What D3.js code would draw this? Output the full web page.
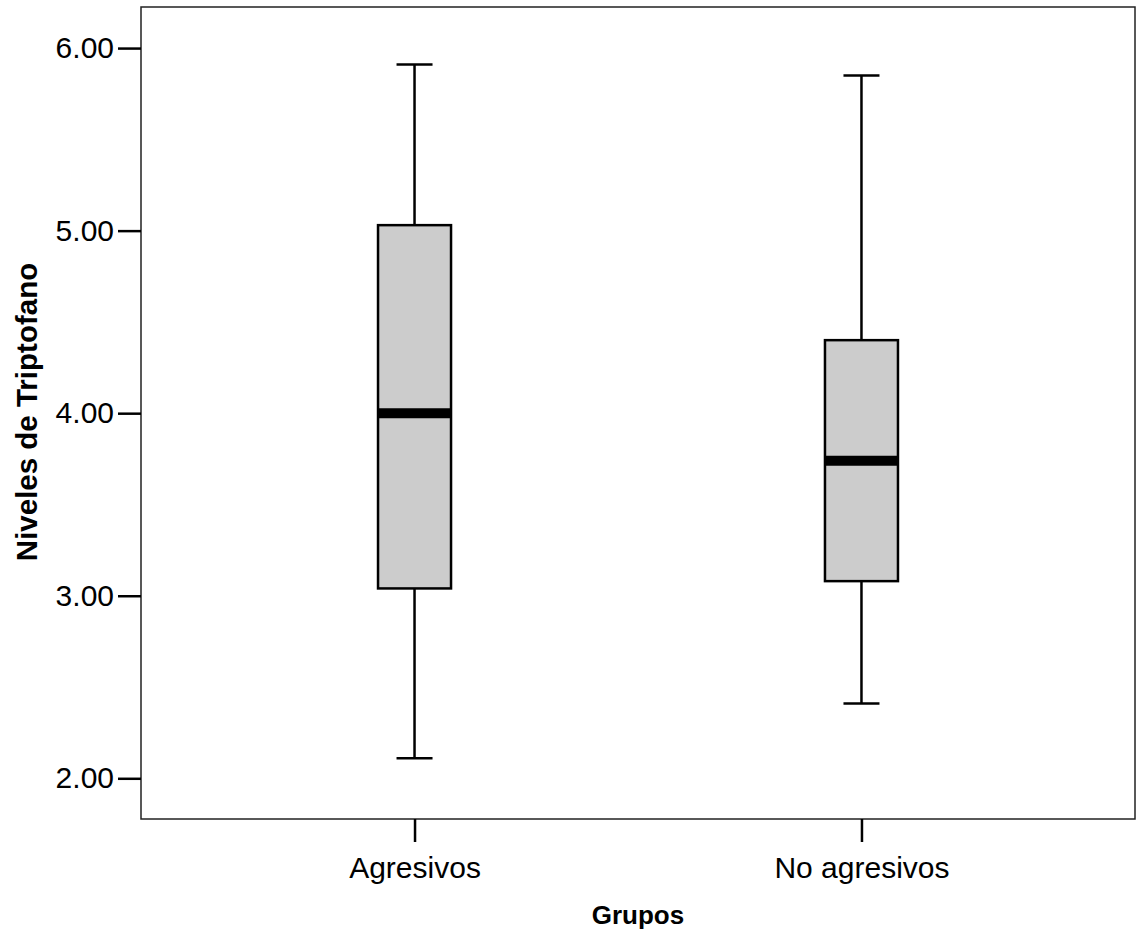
<!DOCTYPE html>
<html>
<head>
<meta charset="utf-8">
<script src="https://cdn.jsdelivr.net/npm/d3@7"></script>
<style>
  html, body { margin: 0; padding: 0; background: #fff; }
  svg { display: block; }
  text { font-family: "Liberation Sans", Arial, sans-serif; fill: #000; }
</style>
</head>
<body>
<svg id="chart" width="1136" height="933"></svg>
<script>
// Box plot: Niveles de Triptofano por grupo
var groups = ['Agresivos', 'No agresivos'];
var whiskerLow = [2.11, 2.41];
var q1 = [3.04, 3.08];
var median = [4.00, 3.74];
var q3 = [5.03, 4.40];
var whiskerHigh = [5.91, 5.85];
var yTicks = [2, 3, 4, 5, 6];

(function () {
  var svg = d3.select('#chart');
  var mL = 141, mR = 1135, mT = 7, mB = 819;
  var font = '"Liberation Sans", Arial, sans-serif';

  var x = d3.scalePoint().domain(groups).range([mL, mR]).padding(0.612);
  var y = d3.scaleLinear().domain([1.777, 6.225]).range([mB, mT]);

  var boxW = 73, capW = 36;

  // frame
  svg.append('rect')
    .attr('x', mL).attr('y', mT)
    .attr('width', mR - mL).attr('height', mB - mT)
    .attr('fill', 'none').attr('stroke', '#222').attr('stroke-width', 1.5);

  // y axis
  var yAxis = d3.axisLeft(y).tickValues(yTicks).tickFormat(d3.format('.2f'))
    .tickSize(23).tickPadding(4);
  var gy = svg.append('g').attr('transform', 'translate(' + mL + ',0)').call(yAxis);
  gy.select('.domain').remove();
  gy.selectAll('.tick line').attr('stroke', '#000').attr('stroke-width', 2.5);
  gy.selectAll('.tick text').attr('font-size', 30).attr('font-family', font).attr('fill', '#000');

  // x axis
  var xAxis = d3.axisBottom(x).tickSize(23).tickPadding(15);
  var gx = svg.append('g').attr('transform', 'translate(0,' + mB + ')').call(xAxis);
  gx.select('.domain').remove();
  gx.selectAll('.tick line').attr('stroke', '#000').attr('stroke-width', 2.5);
  gx.selectAll('.tick text').attr('font-size', 30).attr('font-family', font).attr('fill', '#000');

  var data = groups.map(function (g, i) {
    return { g: g, lo: whiskerLow[i], q1: q1[i], med: median[i], q3: q3[i], hi: whiskerHigh[i] };
  });

  var bx = svg.append('g').selectAll('g').data(data).enter().append('g');

  // whisker stem
  bx.append('line')
    .attr('x1', function (d) { return x(d.g); }).attr('x2', function (d) { return x(d.g); })
    .attr('y1', function (d) { return y(d.lo); }).attr('y2', function (d) { return y(d.hi); })
    .attr('stroke', '#000').attr('stroke-width', 2.5);

  // caps
  bx.selectAll('.cap').data(function (d) { return [{ g: d.g, v: d.lo }, { g: d.g, v: d.hi }]; })
    .enter().append('line')
    .attr('x1', function (d) { return x(d.g) - capW / 2; })
    .attr('x2', function (d) { return x(d.g) + capW / 2; })
    .attr('y1', function (d) { return y(d.v); }).attr('y2', function (d) { return y(d.v); })
    .attr('stroke', '#000').attr('stroke-width', 2.5);

  // box
  bx.append('rect')
    .attr('x', function (d) { return x(d.g) - boxW / 2; })
    .attr('y', function (d) { return y(d.q3); })
    .attr('width', boxW)
    .attr('height', function (d) { return y(d.q1) - y(d.q3); })
    .attr('fill', '#cccccc').attr('stroke', '#000').attr('stroke-width', 2.5);

  // median
  bx.append('line')
    .attr('x1', function (d) { return x(d.g) - boxW / 2; })
    .attr('x2', function (d) { return x(d.g) + boxW / 2; })
    .attr('y1', function (d) { return y(d.med); }).attr('y2', function (d) { return y(d.med); })
    .attr('stroke', '#000').attr('stroke-width', 10);

  // axis titles
  svg.append('text')
    .attr('x', (mL + mR) / 2).attr('y', 924)
    .attr('text-anchor', 'middle').attr('font-size', 26).attr('font-weight', 'bold')
    .text('Grupos');

  svg.append('text')
    .attr('transform', 'translate(37,412) rotate(-90)')
    .attr('text-anchor', 'middle').attr('font-size', 29.5).attr('font-weight', 'bold')
    .text('Niveles de Triptofano');
})();
</script>
</body>
</html>
